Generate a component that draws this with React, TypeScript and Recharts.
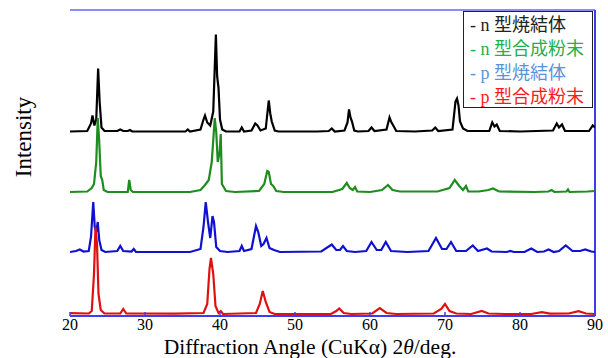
import React from "react";
import { LineChart, Line, XAxis, YAxis, ReferenceLine, Legend } from "recharts";

// 2θ ticks
const xTicks = [20, 30, 40, 50, 60, 70, 80, 90];

// legend labels (order as in reference)
const seriesNames = ["- n 型焼結体", "- n 型合成粉末", "- p 型焼結体", "- p 型合成粉末"];
const lineColors = ["#000000", "#1e8c1e", "#1010d0", "#e01010"];
const legendColors = ["#222222", "#22b04a", "#5b93d8", "#ff1a1a"];

// vertical offsets of the stacked patterns (arbitrary intensity units)
const offsets = [184.5, 124, 64, 2];

// [2θ, intensity above own baseline]
const nSintered: [number, number][] = [
  [20, 0], [22.3, 0.5], [22.8, 8], [23.0, 16], [23.25, 6], [23.5, 12], [23.75, 63], [23.95, 30], [24.2, 4], [24.6, 0.5],
  [26.3, 0.5], [26.7, 2], [27.1, 0.5], [27.7, 0.5], [28.0, 1.5], [28.3, 0],
  [35.4, 0], [35.7, 2], [36.0, 0], [37.4, 2], [37.8, 12], [38.0, 16], [38.3, 9], [38.7, 6], [39.1, 20], [39.45, 97], [39.62, 55], [39.8, 44], [40.0, 12], [40.3, 2], [40.8, 0],
  [42.6, 0], [42.9, 4], [43.2, 0], [44.2, 1], [44.7, 8], [45.0, 6], [45.4, 1], [46.1, 3], [46.5, 31], [46.7, 18], [46.9, 10], [47.3, 1], [47.8, 0],
  [53, 0], [54.5, 0.5], [54.9, 3], [55.3, 0], [56.6, 1], [57.0, 9], [57.2, 22], [57.4, 14], [57.6, 10], [57.9, 1], [58.4, 0],
  [59.8, 0.5], [60.2, 4], [60.6, 0.5], [62.2, 2], [62.6, 14], [62.8, 10], [63.1, 6], [63.5, 0.5],
  [66, 0], [68.3, 1], [68.7, 4], [69.1, 0.5], [71.0, 2], [71.4, 30], [71.6, 33], [71.8, 26], [72.0, 10], [72.4, 3], [73, 0.5],
  [75.9, 0.5], [76.3, 9], [76.6, 5], [76.9, 7], [77.3, 0.5], [80, 0], [84.4, 1], [84.9, 8], [85.2, 4], [85.6, 7], [86.0, 0.5],
  [89.2, 0.5], [89.7, 6], [90, 4],
];

const nPowder: [number, number][] = [
  [20, 0], [22.3, 0.5], [22.9, 4], [23.2, 8], [23.5, 30], [23.7, 74], [23.9, 50], [24.1, 16], [24.3, 12], [24.5, 2], [25, 0],
  [27.7, 0], [27.9, 12], [28.1, 2], [28.4, 0],
  [36, 0], [37.4, 2], [38.0, 7], [38.5, 12], [38.9, 30], [39.3, 74], [39.5, 60], [39.7, 30], [39.95, 40], [40.1, 58], [40.25, 8], [40.8, 1], [42, 0],
  [45.2, 1], [45.9, 8], [46.3, 21], [46.5, 20], [46.8, 8], [47.1, 6], [47.5, 1], [48.5, 0],
  [55, 0], [56.3, 3], [56.9, 9], [57.3, 4], [57.7, 2], [58.0, 5], [58.3, 0.5], [60, 0], [61.6, 2], [62.4, 7], [63.0, 2], [64, 0.5],
  [69, 0.5], [70.6, 4], [71.3, 12], [71.9, 6], [72.4, 2], [72.8, 6], [73.1, 0.5], [74.5, 0.5], [75.8, 2], [76.4, 3.5], [77.2, 0.5],
  [82, 0], [83.8, 0.5], [84.2, 2], [84.6, 0], [86.2, 0.5], [86.4, 2.5], [86.6, 0], [89, 0.5], [90, 1],
];

const pSintered: [number, number][] = [
  [20, 0], [20.8, 1], [21.3, 2.5], [21.8, 0.5], [22.5, 1], [22.8, 15], [23.1, 50], [23.3, 25], [23.5, 20], [23.7, 30], [23.9, 12], [24.2, 2], [24.7, 0],
  [26.3, 1], [26.7, 6], [27.1, 1], [28.2, 0.5], [28.5, 3], [28.8, 0],
  [36, 0], [37.4, 3], [37.8, 25], [38.1, 50], [38.4, 30], [38.7, 14], [39.0, 36], [39.2, 30], [39.5, 5], [40, 1], [41, 0],
  [42.6, 1], [42.9, 6], [43.2, 1], [44.2, 3], [44.8, 26], [45.1, 20], [45.5, 6], [45.8, 8], [46.2, 14], [46.6, 4], [47.2, 2], [48, 0],
  [53.5, 0.5], [54.9, 7.5], [55.5, 2], [56.0, 2], [56.4, 6], [56.9, 1], [58, 0], [59.5, 1], [60.2, 10], [60.9, 2], [61.5, 2], [62.1, 10], [62.8, 1], [65, 0],
  [67.8, 1], [68.8, 14], [69.6, 3], [70.2, 3], [70.8, 10], [71.5, 1], [72.8, 1], [73.7, 6.5], [74.4, 1], [75.6, 3.5], [76.2, 0.5],
  [78.2, 0], [78.7, 1], [79.2, 0], [80.6, 0], [81.5, 3.5], [82.3, 0], [83.2, 0.5], [83.8, 2.5], [84.5, 0], [85.2, 1], [86.1, 6.5], [87, 1],
  [88.0, 1], [88.7, 2.5], [89.5, 0.5], [90, 0],
];

const pPowder: [number, number][] = [
  [20, 0.8], [22.5, 0.5], [22.9, 3], [23.2, 40], [23.4, 87], [23.6, 70], [23.8, 20], [24.1, 4], [24.6, 0.5],
  [26.7, 0.5], [27.1, 5], [27.5, 0.5], [34, 0.3], [37.8, 1], [38.3, 10], [38.6, 45], [38.8, 56], [39.1, 40], [39.4, 8], [39.8, 1], [40.1, 3], [40.4, 0],
  [44.8, 1], [45.3, 10], [45.7, 23], [46.1, 12], [46.6, 2], [47.3, 0],
  [54.8, 0], [55.5, 3], [55.9, 5.5], [56.5, 1], [57.5, 0], [60.3, 0.5], [61.3, 6], [62.2, 1], [63.5, 0],
  [68.5, 0.5], [69.5, 5], [70.0, 10], [70.6, 3], [71.5, 0.5], [73.5, 0], [74.9, 3], [75.8, 0.5], [78, 0],
  [81.5, 0], [82.9, 1.8], [84, 0.3], [86.5, 0.5], [87.8, 2.8], [88.8, 0.5], [90, 0],
];

const allSeries = [nSintered, nPowder, pSintered, pPowder];

const toRows = (pts: [number, number][], off: number) => pts.map(([x, y]) => ({ x, y: y + off }));
const seriesData = allSeries.map((s, i) => toRows(s, offsets[i]));

const SERIF = '"Liberation Serif", "Times New Roman", serif';
const MIXED = '"Liberation Serif", "Noto Sans CJK JP", serif';
const AXIS_BLUE = "#3c3cf0";

const Tick = (props: any) => {
  const { x, y, payload } = props;
  return (
    <g>
      <line x1={x} x2={x} y1={y} y2={y - 4} stroke={AXIS_BLUE} strokeWidth={1.5} />
      <text x={x} y={y + 13.5} textAnchor="middle" fontFamily={SERIF} fontSize={16} fill="#000">
        {payload.value}
      </text>
    </g>
  );
};

const LegendBox = () => (
  <div
    style={{
      border: "1px solid #222",
      background: "#fff",
      width: 130,
      height: 97,
      boxSizing: "border-box",
      paddingLeft: 6,
      paddingTop: 1,
      fontFamily: MIXED,
      fontSize: 18,
      lineHeight: "24px",
    }}
  >
    {seriesNames.map((n, i) => (
      <div key={n} style={{ color: legendColors[i], whiteSpace: "nowrap" }}>{n}</div>
    ))}
  </div>
);

export default function App() {
  return (
    <div style={{ position: "absolute", left: 0, top: 0, width: 608, height: 358, background: "#fff" }}>
      <LineChart width={608} height={358} margin={{ top: 10, right: 13, bottom: 12, left: 70 }}>
        <XAxis
          dataKey="x"
          type="number"
          domain={[20, 90]}
          ticks={xTicks}
          allowDataOverflow
          height={30}
          tickSize={0}
          tickMargin={0}
          tickLine={false}
          axisLine={{ stroke: AXIS_BLUE, strokeWidth: 2 }}
          tick={<Tick />}
        />
        <YAxis
          type="number"
          domain={[0, 306]}
          allowDataOverflow
          width={0}
          tick={false}
          tickLine={false}
          axisLine={{ stroke: AXIS_BLUE, strokeWidth: 2 }}
        />
        <ReferenceLine y={306} stroke="#8c8cf0" strokeWidth={2} />
        <ReferenceLine x={90} stroke={AXIS_BLUE} strokeWidth={2} />
        {seriesData.map((d, i) => (
          <Line
            key={seriesNames[i]}
            data={d}
            dataKey="y"
            name={seriesNames[i]}
            type="linear"
            stroke={lineColors[i]}
            strokeWidth={2.2}
            dot={false}
            activeDot={false}
            isAnimationActive={false}
          />
        ))}
        <Legend
          layout="horizontal"
          verticalAlign="middle"
          align="center"
          wrapperStyle={{ position: "absolute", left: 463, top: 11, width: 130, height: 97 }}
          content={<LegendBox />}
        />
      </LineChart>
      <svg
        width={608}
        height={358}
        style={{ position: "absolute", left: 0, top: 0, pointerEvents: "none" }}
      >
        <text x={310} y={353.5} textAnchor="middle" fontFamily={SERIF} fontSize={21.5} fill="#000">
          Diffraction Angle (CuKα) 2<tspan fontStyle="italic">θ</tspan>/deg.
        </text>
        <text
          transform="translate(31,137) rotate(-90)"
          textAnchor="middle"
          fontFamily={SERIF}
          fontSize={23}
          fill="#000"
        >
          Intensity
        </text>
      </svg>
    </div>
  );
}
